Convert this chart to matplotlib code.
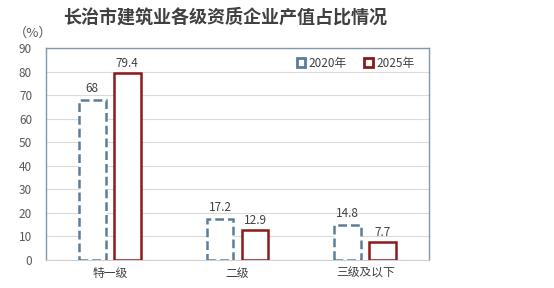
import numpy as np
import matplotlib.pyplot as plt
from matplotlib.patches import Patch

plt.rcParams['font.family'] = ['Noto Sans CJK SC', 'DejaVu Sans']

# data
categories = ['特一级', '二级', '三级及以下']
values_2020 = [68, 17.2, 14.8]
values_2025 = [79.4, 12.9, 7.7]
labels_2020 = ['68', '17.2', '14.8']
labels_2025 = ['79.4', '12.9', '7.7']
yticks = [0, 10, 20, 30, 40, 50, 60, 70, 80, 90]

c2020 = '#5a7d98'
c2025 = '#8b1a1a'
txt = '#404040'

fig = plt.figure(figsize=(5.54, 2.88), dpi=100)
ax = fig.add_axes([46/554, 1 - 260/288, 383/554, 212/288])

x = np.arange(len(categories))
w = 0.21
off = 0.137
ax.bar(x - off, values_2020, w, facecolor='white', edgecolor=c2020,
       linewidth=1.8, linestyle=(0, (3.5, 1.6)), zorder=3)
ax.bar(x + off, values_2025, w, facecolor='white', edgecolor=c2025,
       linewidth=1.8, zorder=3)

# value labels
for xi, v, s in zip(x, values_2020, labels_2020):
    ax.text(xi - off, v + 2.2, s, ha='center', va='bottom', fontsize=8.5, color=txt)
for xi, v, s in zip(x, values_2025, labels_2025):
    ax.text(xi + off, v + 1.2, s, ha='center', va='bottom', fontsize=8.5, color=txt)

ax.set_xlim(-0.5, 2.5)
ax.set_ylim(0, 90)
ax.set_yticks(yticks)
ax.set_xticks(x)
ax.set_xticklabels(categories, fontsize=8.5, color=txt)
ax.tick_params(axis='y', labelsize=8.5, labelcolor='#595959', length=0, pad=10)
ax.tick_params(axis='x', length=0, pad=5)
ax.grid(axis='y', color='#dadada', linewidth=0.8, zorder=0)
ax.set_axisbelow(True)

for side in ['left', 'top', 'right']:
    ax.spines[side].set_color('#7f98ab')
    ax.spines[side].set_linewidth(1.0)
ax.spines['bottom'].set_color('#d0d0d0')

handles = [Patch(facecolor='white', edgecolor=c2020, linewidth=2, label='2020年'),
           Patch(facecolor='white', edgecolor=c2025, linewidth=2, label='2025年')]
ax.legend(handles=handles, loc='upper right', ncol=2, frameon=False,
          fontsize=8.5, handlelength=0.7, handleheight=0.7, handletextpad=0.3,
          columnspacing=1.5, labelcolor=txt, bbox_to_anchor=(0.99, 1.01))

fig.text(225/554, 1 - 17/288, '长治市建筑业各级资质企业产值占比情况', ha='center', va='center',
         fontsize=13, fontweight='bold', color=txt)
fig.text(33/554, 1 - 33/288, '（%）', ha='center', va='center', fontsize=9.5, color='#595959')

fig.savefig('out.png', dpi=100, facecolor='white')
